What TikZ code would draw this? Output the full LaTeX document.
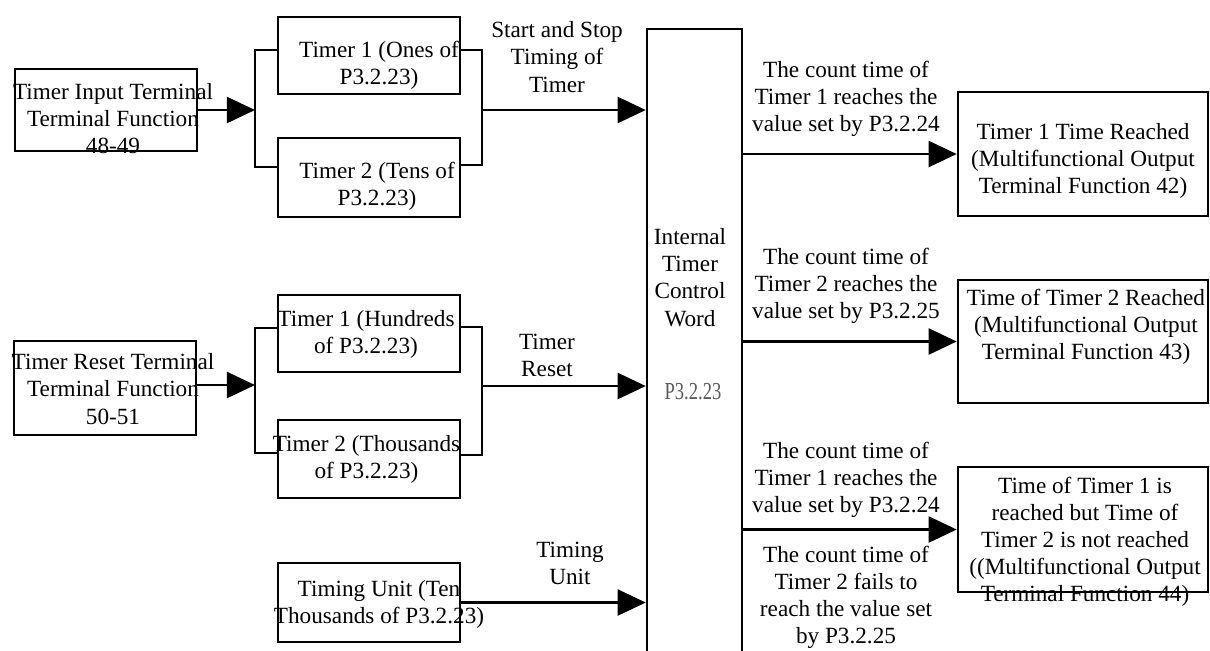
\documentclass[tikz,border=0pt]{standalone}
\usepackage{fontspec}
\setmainfont{Liberation Serif}
\usetikzlibrary{arrows.meta}

\begin{document}
\begin{tikzpicture}[x=0.01cm,y=-0.01cm,>={Triangle[length=8pt,width=7.4pt]},
  every node/.style={font=\fontsize{6.6}{7.7}\selectfont},
  box/.style={draw,line width=0.7pt,inner sep=0pt},
  txt/.style={align=center,inner sep=0pt},
  wire/.style={line width=0.7pt}]
  \useasboundingbox (0,0) rectangle (1210,650);
  \clip (0,0) rectangle (1210,650);
  % input terminals
  \node[box,minimum width=1.82cm,minimum height=0.82cm] (inA) at (106,110) {};
  \node[txt] (inAt) at (113,118.5) {Timer Input Terminal\\Terminal Function\\48-49};
  \node[box,minimum width=1.82cm,minimum height=0.94cm] (inB) at (105,388) {};
  \node[txt] (inBt) at (113,389) {Timer Reset Terminal\\Terminal Function\\50-51};
  % timer bits
  \node[box,minimum width=1.82cm,minimum height=0.77cm] (t1) at (369,55.5) {};
  \node[txt] (t1t) at (379,65) {Timer 1 (Ones of\\P3.2.23)};
  \node[box,minimum width=1.82cm,minimum height=0.79cm] (t2) at (369,177.5) {};
  \node[txt] (t2t) at (377,186.5) {Timer 2 (Tens of\\P3.2.23)};
  \node[box,minimum width=1.82cm,minimum height=0.77cm] (t3) at (369,333.5) {};
  \node[txt] (t3t) at (366,334) {Timer 1 (Hundreds\\of P3.2.23)};
  \node[box,minimum width=1.82cm,minimum height=0.78cm] (t4) at (369,459) {};
  \node[txt] (t4t) at (366.5,459) {Timer 2 (Thousands\\of P3.2.23)};
  \node[box,minimum width=1.82cm,minimum height=0.79cm] (unit) at (369,602.5) {};
  \node[txt] (unitt) at (379,604) {Timing Unit (Ten\\Thousands of P3.2.23)};
  % control word
  \node[box,minimum width=0.95cm,minimum height=6.71cm] (ctl) at (694.5,364.5) {};
  \node[txt] (ctlt) at (690,277.5) {Internal\\Timer\\Control\\Word};
  \node[txt,text=black!65] (ctlp) at (693,392) {\scalebox{0.8}[1.05]{P3.2.23}};
  % outputs
  \node[box,minimum width=2.5cm,minimum height=1.24cm] (out1) at (1083,154) {};
  \node[txt] (out1t) at (1083,161) {Timer 1 Time Reached\\(Multifunctional Output\\Terminal Function 42)};
  \node[box,minimum width=2.5cm,minimum height=1.23cm] (out2) at (1083,341.5) {};
  \node[txt] (out2t) at (1086,327) {Time of Timer 2 Reached\\(Multifunctional Output\\Terminal Function 43)};
  \node[box,minimum width=2.5cm,minimum height=1.25cm] (out3) at (1083,529.5) {};
  \node[txt] (out3t) at (1085,541.5) {Time of Timer 1 is\\reached but Time of\\Timer 2 is not reached\\((Multifunctional Output\\Terminal Function 44)};

  % brackets
  \coordinate (jA) at (255,110);
  \coordinate (jAt) at (255,50);
  \coordinate (jAb) at (255,167);
  \coordinate (kA) at (482,110);
  \coordinate (kAt) at (482,50);
  \coordinate (kAb) at (482,165);
  \coordinate (jB) at (255,385);
  \coordinate (jBt) at (255,328);
  \coordinate (jBb) at (255,453);
  \coordinate (kB) at (482,386);
  \coordinate (kBt) at (482,327);
  \coordinate (kBb) at (482,455);
  \draw[wire,->] (inA.east |- jA) -- (jA);
  \draw[wire] (t1.west |- jAt) -- (jAt) -- (jAb) -- (t2.west |- jAb);
  \draw[wire] (t1.east |- kAt) -- (kAt) -- (kAb) -- (t2.east |- kAb);
  \draw[wire,->] (kA) -- (ctl.west |- kA);
  \draw[wire,->] (inB.east |- jB) -- (jB);
  \draw[wire] (t3.west |- jBt) -- (jBt) -- (jBb) -- (t4.west |- jBb);
  \draw[wire] (t3.east |- kBt) -- (kBt) -- (kBb) -- (t4.east |- kBb);
  \draw[wire,->] (kB) -- (ctl.west |- kB);
  \draw[wire,->] (unit.east) -- (unit -| ctl.west);
  \draw[wire,->] (ctl.east |- out1.west) -- (out1.west);
  \draw[wire,->] (ctl.east |- out2.west) -- (out2.west);
  \draw[wire,->] (ctl.east |- out3.west) -- (out3.west);

  % connector labels
  \node[txt] (lStart) at (557,57) {Start and Stop\\Timing of\\Timer};
  \node[txt] (lReset) at (547,355.5) {Timer\\Reset};
  \node[txt] (lUnit) at (570,563.5) {Timing\\Unit};
  \node[txt] (lOut1) at (846,99) {The count time of\\Timer 1 reaches the\\value set by P3.2.24};
  \node[txt] (lOut2) at (846,285.5) {The count time of\\Timer 2 reaches the\\value set by P3.2.25};
  \node[txt] (lOut3a) at (846,479.5) {The count time of\\Timer 1 reaches the\\value set by P3.2.24};
  \node[txt] (lOut3b) at (846,597) {The count time of\\Timer 2 fails to\\reach the value set\\by P3.2.25};
\end{tikzpicture}
\end{document}
